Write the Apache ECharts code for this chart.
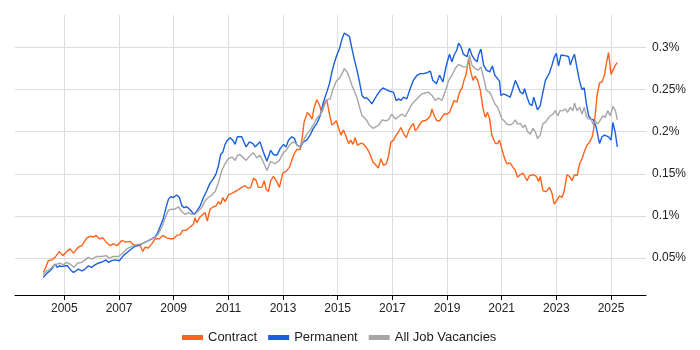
<!DOCTYPE html>
<html>
<head>
<meta charset="utf-8">
<script src="https://cdn.jsdelivr.net/npm/echarts@6/dist/echarts.min.js"></script>
<style>
  html, body { margin: 0; padding: 0; background: #fff; }
  #chart { width: 700px; height: 350px; }
</style>
</head>
<body>
<div id="chart"></div>
<script>
// year ticks and percentage ticks
const yearTicks = [2005, 2007, 2009, 2011, 2013, 2015, 2017, 2019, 2021, 2023, 2025];
const pctTicks = [0.05, 0.1, 0.15, 0.2, 0.25, 0.3];
const seriesNames = ['Contract', 'Permanent', 'All Job Vacancies'];

// [year, % of vacancies]
const contract = [[2004.23,0.033],[2004.32,0.039],[2004.41,0.047],[2004.54,0.048],[2004.66,0.051],[2004.82,0.058],[2004.94,0.053],[2005.09,0.058],[2005.21,0.061],[2005.33,0.056],[2005.51,0.063],[2005.64,0.065],[2005.82,0.074],[2005.97,0.076],[2006.06,0.075],[2006.16,0.077],[2006.28,0.073],[2006.41,0.074],[2006.53,0.069],[2006.67,0.065],[2006.79,0.067],[2006.94,0.065],[2007.10,0.071],[2007.26,0.069],[2007.40,0.070],[2007.53,0.066],[2007.65,0.065],[2007.77,0.065],[2007.87,0.058],[2007.95,0.063],[2008.07,0.062],[2008.20,0.067],[2008.32,0.073],[2008.48,0.073],[2008.60,0.077],[2008.75,0.074],[2008.89,0.073],[2008.99,0.073],[2009.11,0.077],[2009.24,0.078],[2009.33,0.083],[2009.45,0.083],[2009.60,0.087],[2009.72,0.090],[2009.78,0.098],[2009.85,0.092],[2009.94,0.098],[2010.07,0.102],[2010.15,0.104],[2010.23,0.094],[2010.33,0.108],[2010.45,0.111],[2010.55,0.112],[2010.64,0.117],[2010.72,0.114],[2010.80,0.122],[2010.88,0.117],[2011.00,0.125],[2011.13,0.127],[2011.31,0.130],[2011.49,0.134],[2011.61,0.136],[2011.73,0.133],[2011.82,0.134],[2011.92,0.145],[2012.02,0.142],[2012.10,0.134],[2012.23,0.134],[2012.31,0.142],[2012.38,0.132],[2012.47,0.129],[2012.55,0.142],[2012.65,0.147],[2012.75,0.142],[2012.87,0.134],[2012.92,0.134],[2012.99,0.151],[2013.11,0.153],[2013.24,0.158],[2013.32,0.166],[2013.41,0.174],[2013.51,0.179],[2013.63,0.179],[2013.69,0.190],[2013.77,0.211],[2013.89,0.223],[2013.99,0.219],[2014.06,0.215],[2014.14,0.229],[2014.24,0.238],[2014.33,0.232],[2014.42,0.223],[2014.51,0.233],[2014.60,0.238],[2014.70,0.221],[2014.79,0.208],[2014.87,0.210],[2014.95,0.213],[2015.03,0.205],[2015.12,0.196],[2015.21,0.202],[2015.31,0.194],[2015.40,0.186],[2015.48,0.190],[2015.56,0.185],[2015.64,0.193],[2015.72,0.184],[2015.82,0.186],[2015.92,0.186],[2016.04,0.182],[2016.16,0.175],[2016.29,0.164],[2016.41,0.160],[2016.49,0.157],[2016.58,0.168],[2016.68,0.160],[2016.78,0.162],[2016.86,0.171],[2016.95,0.188],[2017.04,0.190],[2017.14,0.196],[2017.23,0.200],[2017.31,0.205],[2017.41,0.198],[2017.51,0.193],[2017.61,0.202],[2017.68,0.206],[2017.77,0.210],[2017.84,0.201],[2017.92,0.204],[2018.02,0.210],[2018.12,0.213],[2018.20,0.213],[2018.29,0.215],[2018.39,0.219],[2018.45,0.227],[2018.53,0.219],[2018.63,0.213],[2018.73,0.213],[2018.81,0.217],[2018.90,0.221],[2019.00,0.221],[2019.09,0.223],[2019.18,0.230],[2019.26,0.237],[2019.36,0.235],[2019.46,0.247],[2019.55,0.252],[2019.63,0.262],[2019.70,0.268],[2019.79,0.287],[2019.85,0.274],[2019.95,0.261],[2020.03,0.266],[2020.12,0.261],[2020.22,0.249],[2020.31,0.229],[2020.40,0.217],[2020.48,0.223],[2020.56,0.215],[2020.64,0.196],[2020.77,0.186],[2020.85,0.186],[2020.92,0.190],[2021.01,0.179],[2021.11,0.168],[2021.19,0.162],[2021.31,0.163],[2021.41,0.158],[2021.50,0.154],[2021.58,0.146],[2021.68,0.149],[2021.78,0.151],[2021.86,0.146],[2021.93,0.142],[2022.02,0.148],[2022.14,0.149],[2022.27,0.147],[2022.35,0.141],[2022.41,0.147],[2022.51,0.130],[2022.63,0.129],[2022.75,0.134],[2022.84,0.127],[2022.92,0.114],[2023.02,0.119],[2023.12,0.124],[2023.21,0.122],[2023.29,0.130],[2023.39,0.149],[2023.48,0.147],[2023.57,0.142],[2023.66,0.149],[2023.76,0.148],[2023.85,0.162],[2023.94,0.168],[2024.02,0.176],[2024.12,0.184],[2024.22,0.188],[2024.31,0.194],[2024.36,0.202],[2024.43,0.223],[2024.49,0.243],[2024.58,0.258],[2024.67,0.259],[2024.76,0.267],[2024.83,0.281],[2024.91,0.294],[2025.00,0.268],[2025.07,0.267],[2025.16,0.279],[2025.23,0.282]];

const permanent = [[2004.23,0.027],[2004.36,0.032],[2004.48,0.035],[2004.58,0.039],[2004.66,0.043],[2004.74,0.039],[2004.82,0.041],[2004.90,0.040],[2005.03,0.041],[2005.11,0.041],[2005.21,0.037],[2005.33,0.033],[2005.43,0.035],[2005.51,0.037],[2005.64,0.035],[2005.76,0.037],[2005.88,0.041],[2006.00,0.039],[2006.12,0.042],[2006.24,0.044],[2006.41,0.046],[2006.53,0.048],[2006.61,0.045],[2006.74,0.047],[2006.86,0.048],[2007.01,0.047],[2007.16,0.053],[2007.34,0.058],[2007.53,0.063],[2007.67,0.065],[2007.83,0.067],[2008.02,0.070],[2008.20,0.073],[2008.32,0.075],[2008.40,0.079],[2008.50,0.087],[2008.62,0.097],[2008.72,0.110],[2008.81,0.120],[2008.89,0.123],[2008.99,0.122],[2009.11,0.125],[2009.21,0.122],[2009.30,0.112],[2009.38,0.110],[2009.48,0.111],[2009.58,0.108],[2009.66,0.105],[2009.75,0.102],[2009.85,0.106],[2009.97,0.112],[2010.09,0.122],[2010.21,0.130],[2010.33,0.139],[2010.45,0.144],[2010.55,0.150],[2010.64,0.160],[2010.72,0.173],[2010.80,0.176],[2010.88,0.185],[2010.97,0.190],[2011.07,0.193],[2011.16,0.190],[2011.25,0.185],[2011.33,0.194],[2011.49,0.194],[2011.65,0.182],[2011.77,0.188],[2011.90,0.186],[2011.98,0.182],[2012.16,0.188],[2012.28,0.176],[2012.41,0.165],[2012.55,0.178],[2012.65,0.173],[2012.77,0.172],[2012.90,0.180],[2013.02,0.185],[2013.11,0.182],[2013.20,0.190],[2013.32,0.194],[2013.42,0.192],[2013.51,0.184],[2013.63,0.182],[2013.75,0.188],[2013.87,0.190],[2013.99,0.196],[2014.11,0.204],[2014.24,0.210],[2014.36,0.219],[2014.48,0.235],[2014.60,0.247],[2014.70,0.257],[2014.79,0.271],[2014.87,0.281],[2014.97,0.291],[2015.07,0.299],[2015.15,0.309],[2015.24,0.317],[2015.34,0.315],[2015.43,0.313],[2015.52,0.299],[2015.60,0.287],[2015.70,0.274],[2015.80,0.259],[2015.89,0.243],[2015.97,0.240],[2016.07,0.240],[2016.16,0.237],[2016.25,0.233],[2016.34,0.238],[2016.43,0.243],[2016.56,0.249],[2016.65,0.252],[2016.78,0.250],[2016.90,0.248],[2017.04,0.247],[2017.14,0.237],[2017.23,0.239],[2017.31,0.237],[2017.41,0.241],[2017.53,0.239],[2017.65,0.251],[2017.77,0.261],[2017.90,0.267],[2018.02,0.269],[2018.14,0.269],[2018.27,0.270],[2018.39,0.272],[2018.48,0.261],[2018.61,0.257],[2018.73,0.267],[2018.85,0.259],[2018.97,0.278],[2019.09,0.292],[2019.18,0.283],[2019.26,0.291],[2019.36,0.297],[2019.42,0.305],[2019.51,0.301],[2019.60,0.292],[2019.73,0.289],[2019.82,0.299],[2019.91,0.291],[2020.00,0.286],[2020.10,0.283],[2020.15,0.291],[2020.24,0.298],[2020.34,0.279],[2020.44,0.273],[2020.56,0.271],[2020.66,0.278],[2020.75,0.267],[2020.85,0.263],[2020.92,0.260],[2020.97,0.243],[2021.07,0.245],[2021.19,0.243],[2021.31,0.241],[2021.41,0.251],[2021.50,0.261],[2021.58,0.255],[2021.68,0.247],[2021.78,0.245],[2021.84,0.251],[2021.93,0.241],[2022.02,0.233],[2022.11,0.231],[2022.17,0.241],[2022.23,0.239],[2022.31,0.226],[2022.41,0.231],[2022.51,0.247],[2022.60,0.261],[2022.66,0.259],[2022.75,0.270],[2022.84,0.279],[2022.92,0.288],[2023.00,0.293],[2023.08,0.278],[2023.17,0.291],[2023.24,0.293],[2023.36,0.290],[2023.45,0.289],[2023.51,0.279],[2023.57,0.285],[2023.66,0.292],[2023.76,0.275],[2023.85,0.260],[2023.94,0.250],[2024.02,0.252],[2024.10,0.233],[2024.18,0.219],[2024.27,0.215],[2024.36,0.214],[2024.46,0.205],[2024.58,0.186],[2024.67,0.194],[2024.76,0.196],[2024.83,0.198],[2024.91,0.194],[2025.00,0.190],[2025.07,0.211],[2025.16,0.198],[2025.23,0.182]];

const allJobs = [[2004.23,0.030],[2004.36,0.035],[2004.48,0.037],[2004.60,0.041],[2004.72,0.043],[2004.84,0.044],[2004.96,0.042],[2005.09,0.045],[2005.21,0.043],[2005.36,0.039],[2005.48,0.044],[2005.64,0.045],[2005.76,0.048],[2005.88,0.051],[2006.00,0.049],[2006.19,0.052],[2006.37,0.052],[2006.53,0.053],[2006.65,0.050],[2006.79,0.052],[2006.98,0.052],[2007.10,0.055],[2007.28,0.061],[2007.47,0.064],[2007.65,0.066],[2007.83,0.067],[2008.02,0.070],[2008.20,0.073],[2008.32,0.074],[2008.44,0.079],[2008.57,0.087],[2008.69,0.098],[2008.81,0.107],[2008.93,0.108],[2009.05,0.108],[2009.17,0.111],[2009.30,0.105],[2009.42,0.102],[2009.54,0.104],[2009.66,0.102],[2009.78,0.102],[2009.90,0.106],[2010.03,0.110],[2010.15,0.118],[2010.27,0.122],[2010.40,0.125],[2010.52,0.129],[2010.64,0.140],[2010.76,0.154],[2010.88,0.162],[2011.00,0.168],[2011.13,0.170],[2011.25,0.166],[2011.33,0.172],[2011.43,0.173],[2011.65,0.166],[2011.80,0.172],[2011.92,0.175],[2012.04,0.169],[2012.16,0.172],[2012.28,0.164],[2012.41,0.154],[2012.55,0.165],[2012.71,0.162],[2012.87,0.166],[2012.99,0.174],[2013.11,0.178],[2013.24,0.184],[2013.36,0.188],[2013.48,0.186],[2013.60,0.182],[2013.73,0.188],[2013.85,0.196],[2013.99,0.202],[2014.14,0.210],[2014.26,0.217],[2014.38,0.221],[2014.51,0.231],[2014.60,0.238],[2014.73,0.239],[2014.82,0.250],[2014.95,0.260],[2015.07,0.264],[2015.15,0.268],[2015.24,0.275],[2015.34,0.271],[2015.43,0.264],[2015.52,0.255],[2015.60,0.249],[2015.70,0.241],[2015.80,0.229],[2015.89,0.219],[2015.97,0.217],[2016.07,0.213],[2016.16,0.208],[2016.29,0.204],[2016.41,0.206],[2016.53,0.209],[2016.62,0.214],[2016.74,0.213],[2016.86,0.214],[2016.98,0.221],[2017.11,0.215],[2017.23,0.218],[2017.35,0.221],[2017.47,0.218],[2017.59,0.225],[2017.72,0.233],[2017.84,0.237],[2017.96,0.241],[2018.08,0.245],[2018.20,0.246],[2018.32,0.247],[2018.45,0.243],[2018.57,0.237],[2018.69,0.240],[2018.81,0.237],[2018.93,0.247],[2019.06,0.261],[2019.18,0.267],[2019.30,0.275],[2019.42,0.280],[2019.48,0.279],[2019.60,0.277],[2019.73,0.277],[2019.82,0.291],[2019.91,0.279],[2020.03,0.275],[2020.15,0.273],[2020.24,0.277],[2020.34,0.264],[2020.44,0.249],[2020.56,0.247],[2020.66,0.240],[2020.75,0.233],[2020.85,0.229],[2020.92,0.229],[2021.01,0.215],[2021.09,0.213],[2021.19,0.209],[2021.31,0.208],[2021.41,0.210],[2021.50,0.214],[2021.58,0.209],[2021.68,0.210],[2021.78,0.205],[2021.86,0.208],[2021.95,0.200],[2022.05,0.197],[2022.14,0.204],[2022.23,0.200],[2022.31,0.192],[2022.41,0.196],[2022.51,0.210],[2022.60,0.211],[2022.68,0.215],[2022.78,0.219],[2022.88,0.221],[2022.96,0.225],[2023.05,0.219],[2023.14,0.225],[2023.24,0.225],[2023.33,0.227],[2023.41,0.223],[2023.51,0.229],[2023.61,0.225],[2023.66,0.234],[2023.76,0.225],[2023.85,0.229],[2023.94,0.221],[2024.02,0.229],[2024.10,0.218],[2024.18,0.215],[2024.27,0.215],[2024.34,0.209],[2024.43,0.213],[2024.51,0.209],[2024.61,0.214],[2024.71,0.219],[2024.79,0.217],[2024.88,0.225],[2024.97,0.219],[2025.07,0.230],[2025.16,0.225],[2025.23,0.214]];

const colors = ['#ff6319', '#1a5fe0', '#a6a6a6'];
const font = 'Arial, "Liberation Sans", sans-serif';

const chart = echarts.init(document.getElementById('chart'), null, { renderer: 'canvas' });

const mkLine = (name, data, color) => ({
  name: name,
  type: 'line',
  data: data,
  showSymbol: false,
  symbol: 'none',
  smooth: false,
  lineStyle: { color: color, width: 1.4 },
  itemStyle: { color: color },
  emphasis: { disabled: true }
});

chart.setOption({
  animation: false,
  backgroundColor: '#fff',
  grid: { left: 15, right: 54, top: 15, bottom: 55 },
  legend: {
    data: seriesNames,
    left: 177,
    top: 326,
    icon: 'rect',
    itemWidth: 21,
    itemHeight: 5,
    itemGap: 11,
    textStyle: { fontFamily: font, fontSize: 13, color: '#222' }
  },
  xAxis: {
    type: 'value',
    min: 2003.195,
    max: 2026.28,
    axisLine: { show: true, lineStyle: { color: '#000', width: 1 } },
    axisTick: { show: true, length: 5, lineStyle: { color: '#000' }, customValues: yearTicks },
    axisLabel: {
      customValues: yearTicks,
      formatter: v => String(Math.round(v)),
      fontFamily: font, fontSize: 12, color: '#222', margin: 8
    },
    splitLine: { show: true, lineStyle: { color: '#dddddd', width: 1 } }
  },
  yAxis: {
    type: 'value',
    position: 'right',
    min: 0.0063,
    max: 0.3385,
    axisLine: { show: false },
    axisTick: { show: false, customValues: pctTicks },
    axisLabel: {
      customValues: pctTicks,
      formatter: v => String(parseFloat(v.toFixed(2))) + '%',
      fontFamily: font, fontSize: 12, color: '#222', margin: 6
    },
    splitLine: { show: true, lineStyle: { color: '#dddddd', width: 1 } }
  },
  series: [
    mkLine(seriesNames[0], contract, colors[0]),
    mkLine(seriesNames[1], permanent, colors[1]),
    mkLine(seriesNames[2], allJobs, colors[2])
  ]
});
</script>
</body>
</html>
